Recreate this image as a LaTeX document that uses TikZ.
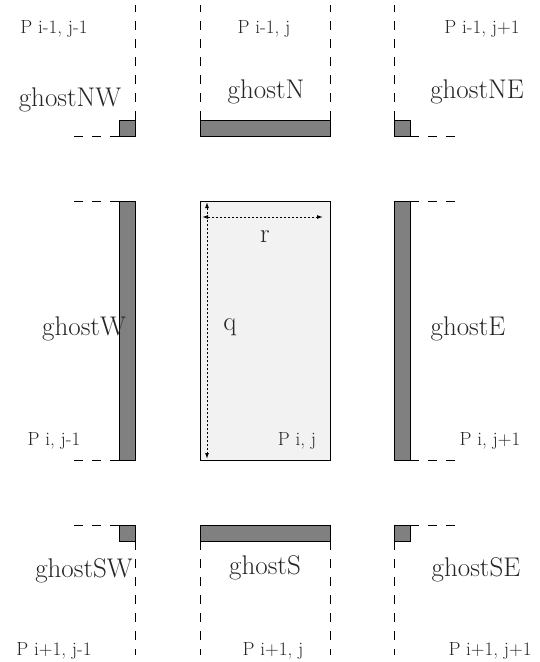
\documentclass[tikz,border=0pt]{standalone}
\usetikzlibrary{arrows.meta}
\definecolor{ghostgray}{RGB}{128,128,128}
\definecolor{cellfill}{RGB}{242,242,242}
\begin{document}
\begin{tikzpicture}[x=1pt,y=-1pt,
  ghostbox/.style={draw=black, line width=0.9pt, fill=ghostgray, inner sep=0pt, outer sep=0pt, anchor=north west},
  cellbox/.style={draw=black, line width=0.9pt, fill=cellfill, inner sep=0pt, outer sep=0pt, anchor=north west},
  border/.style={line width=0.9pt, dash pattern=on 9pt off 9pt},
  big/.style={font=\fontsize{27}{30}\selectfont, inner sep=0pt, anchor=base, text=black!85},
  small/.style={font=\fontsize{19}{22}\selectfont, inner sep=0pt, anchor=base, text=black!85},
  dimline/.style={line width=1pt, dash pattern=on 2pt off 2pt, {Latex[open,length=6pt,width=4pt]}-{Latex[open,length=6pt,width=4pt]}}]
\fill[white] (0,0) rectangle (539,662);
\useasboundingbox (0,0) rectangle (539,662);
% ghost and cell boxes
\node[ghostbox, minimum width=16pt, minimum height=16pt] (nw) at (119,120) {};
\node[ghostbox, minimum width=130pt, minimum height=16pt] (n) at (200,120) {};
\node[ghostbox, minimum width=16pt, minimum height=16pt] (ne) at (394,120) {};
\node[ghostbox, minimum width=16pt, minimum height=259pt] (w) at (119,201) {};
\node[cellbox, minimum width=130pt, minimum height=259pt] (c) at (200,201) {};
\node[ghostbox, minimum width=16pt, minimum height=259pt] (e) at (394,201) {};
\node[ghostbox, minimum width=16pt, minimum height=16pt] (sw) at (119,525) {};
\node[ghostbox, minimum width=130pt, minimum height=16pt] (s) at (200,525) {};
\node[ghostbox, minimum width=16pt, minimum height=16pt] (se) at (394,525) {};
% free ends of boundary lines
\coordinate (nwtop) at (135,5);
\coordinate (nwleft) at (70,136);
\coordinate (ntopl) at (200,5);
\coordinate (ntopr) at (330,5);
\coordinate (netop) at (394,5);
\coordinate (neright) at (460,136);
\coordinate (wtop) at (70,201);
\coordinate (wbot) at (70,460);
\coordinate (etop) at (460,201);
\coordinate (ebot) at (460,460);
\coordinate (swleft) at (70,525);
\coordinate (swbot) at (135,655);
\coordinate (sbotl) at (200,655);
\coordinate (sbotr) at (330,655);
\coordinate (seright) at (460,525);
\coordinate (sebot) at (394,655);
\draw[border] (nw.north east) -- (nwtop);
\draw[border] (nw.south west) -- (nwleft);
\draw[border] (n.north west) -- (ntopl);
\draw[border] (n.north east) -- (ntopr);
\draw[border] (ne.north west) -- (netop);
\draw[border] (ne.south east) -- (neright);
\draw[border] (w.north west) -- (wtop);
\draw[border] (w.south west) -- (wbot);
\draw[border] (e.north east) -- (etop);
\draw[border] (e.south east) -- (ebot);
\draw[border] (sw.north west) -- (swleft);
\draw[border] (sw.south east) -- (swbot);
\draw[border] (s.south west) -- (sbotl);
\draw[border] (s.south east) -- (sbotr);
\draw[border] (se.north east) -- (seright);
\draw[border] (se.south west) -- (sebot);
% dimension arrows
\coordinate (rstart) at (202,217);
\coordinate (rend) at (323,217);
\coordinate (qstart) at (207,202);
\coordinate (qend) at (207,459);
\draw[dimline] (rstart) -- (rend);
\draw[dimline] (qstart) -- (qend);
% labels
\node[small] (lnw) at (54,33) {P i-1, j-1};
\node[big] (gnw) at (70,106) {ghostNW};
\node[small] (ln) at (264,33) {P i-1, j};
\node[big] (gn) at (266,98) {ghostN};
\node[small] (lne) at (482,33) {P i-1, j+1};
\node[big] (gne) at (477,98) {ghostNE};
\node[big] (gw) at (84,335) {ghostW};
\node[big] (lq) at (230,330) {q};
\node[big] (lr) at (265,242) {r};
\node[big] (ge) at (468,335) {ghostE};
\node[small] (lw) at (54,445) {P i, j-1};
\node[small] (lc) at (297,445) {P i, j};
\node[small] (le) at (490,445) {P i, j+1};
\node[big] (gsw) at (84,577) {ghostSW};
\node[big] (gs) at (265,574) {ghostS};
\node[big] (gse) at (476,576) {ghostSE};
\node[small] (lsw) at (54,655) {P i+1, j-1};
\node[small] (ls) at (273,655) {P i+1, j};
\node[small] (lse) at (490,655) {P i+1, j+1};
\end{tikzpicture}
\end{document}
